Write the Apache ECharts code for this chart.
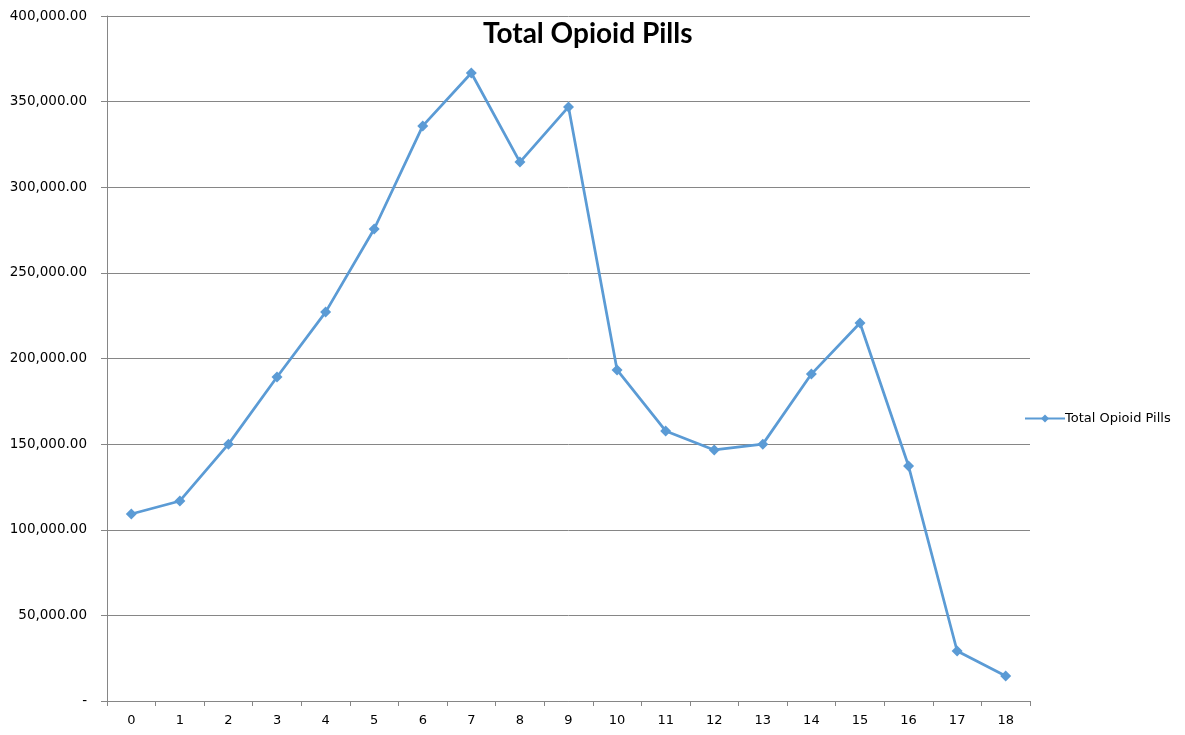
<!DOCTYPE html>
<html>
<head>
<meta charset="utf-8">
<script src="https://cdn.jsdelivr.net/npm/echarts@6/dist/echarts.min.js"></script>
<style>
html,body{margin:0;padding:0;background:#fff;}
#chart{width:1185px;height:735px;}
</style>
</head>
<body>
<div id="chart"></div>
<script>
var categories = ['0','1','2','3','4','5','6','7','8','9','10','11','12','13','14','15','16','17','18'];
var pills = [109200, 116800, 150000, 189200, 227100, 275600, 335800, 366700, 314700, 346900,
             193300, 157700, 146600, 150000, 190900, 220700, 137200, 29200, 14600];
var seriesName = 'Total Opioid Pills';

function fmtVal(v) {
    if (v === 0) return '-';
    return v.toLocaleString('en-US', {minimumFractionDigits: 2, maximumFractionDigits: 2});
}

var myChart = echarts.init(document.getElementById('chart'));
var option = {
    animation: false,
    title: {
        text: seriesName,
        left: 478,
        top: 15,
        textStyle: {
            fontFamily: 'Lato',
            fontWeight: 'bold',
            fontSize: 28,
            color: '#000'
        }
    },
    legend: {
        data: [seriesName],
        left: 1019,
        top: 407,
        itemWidth: 40,
        itemHeight: 10,
        itemGap: 2,
        textStyle: {
            fontFamily: 'DejaVu Sans',
            fontSize: 13,
            color: '#000',
            padding: [0, 0, 0, -5]
        }
    },
    grid: {
        left: 107,
        right: 155,
        top: 16,
        bottom: 34
    },
    xAxis: {
        type: 'category',
        data: categories,
        boundaryGap: true,
        axisLine: {lineStyle: {color: '#868686', width: 1}},
        axisTick: {show: true, length: 5, lineStyle: {color: '#868686'}},
        axisLabel: {
            fontFamily: 'DejaVu Sans',
            fontSize: 13,
            color: '#000',
            margin: 13
        }
    },
    yAxis: {
        type: 'value',
        min: 0,
        max: 400000,
        interval: 50000,
        axisLine: {show: true, lineStyle: {color: '#868686', width: 1}},
        axisTick: {show: true, length: 6, lineStyle: {color: '#868686'}},
        splitLine: {lineStyle: {color: '#868686', width: 1}},
        axisLabel: {
            fontFamily: 'DejaVu Sans',
            fontSize: 13.5,
            color: '#000',
            margin: 20,
            formatter: fmtVal
        }
    },
    series: [
        {
            name: seriesName,
            type: 'line',
            data: pills,
            symbol: 'diamond',
            symbolSize: 11,
            itemStyle: {color: '#5B9BD5'},
            lineStyle: {color: '#5B9BD5', width: 2.75}
        }
    ]
};
myChart.setOption(option);
</script>
</body>
</html>
